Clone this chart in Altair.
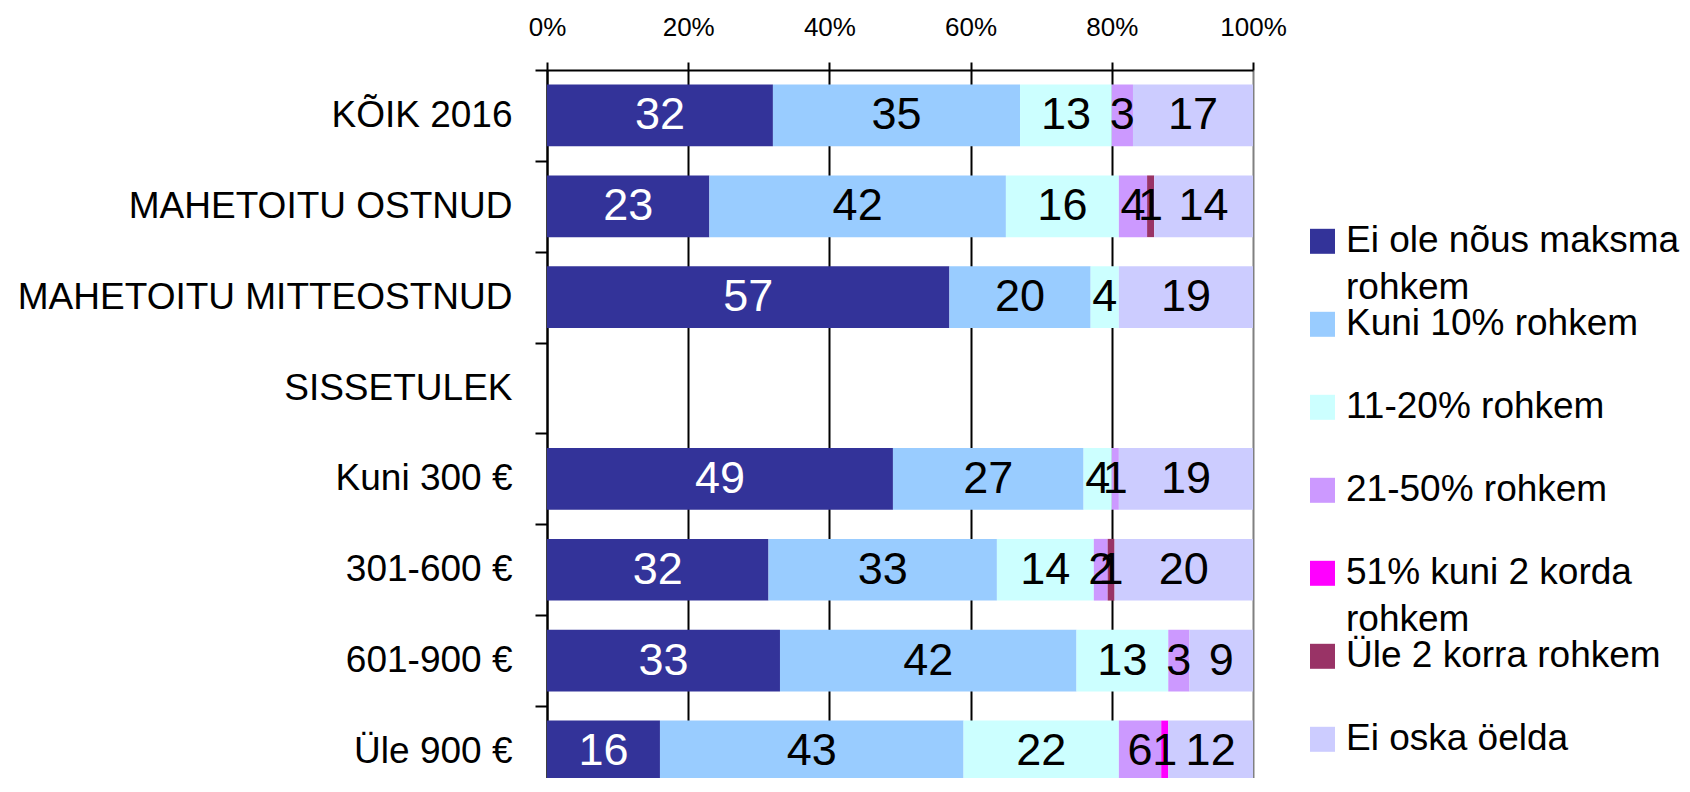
import altair as alt
import pandas as pd

categories = ["KÕIK 2016", "MAHETOITU OSTNUD", "MAHETOITU MITTEOSTNUD", "SISSETULEK",
              "Kuni 300 €", "301-600 €", "601-900 €", "Üle 900 €"]
series = ["Ei ole nõus maksma rohkem", "Kuni 10% rohkem", "11-20% rohkem",
          "21-50% rohkem", "51% kuni 2 korda rohkem", "Üle 2 korra rohkem", "Ei oska öelda"]
legend_labels = ["Ei ole nõus maksma\nrohkem", "Kuni 10% rohkem", "11-20% rohkem",
                 "21-50% rohkem", "51% kuni 2 korda\nrohkem", "Üle 2 korra rohkem", "Ei oska öelda"]
colors = ["#333399", "#99CCFF", "#CCFFFF", "#CC99FF", "#FF00FF", "#993366", "#CCCCFF"]

ei_ole = [32, 23, 57, 0, 49, 32, 33, 16]
kuni_10 = [35, 42, 20, 0, 27, 33, 42, 43]
p11_20 = [13, 16, 4, 0, 4, 14, 13, 22]
p21_50 = [3, 4, 0, 0, 1, 2, 3, 6]
p51_2x = [0, 0, 0, 0, 0, 0, 0, 1]
yle_2x = [0, 1, 0, 0, 0, 1, 0, 0]
ei_oska = [17, 14, 19, 0, 19, 20, 9, 12]

series_values = [ei_ole, kuni_10, p11_20, p21_50, p51_2x, yle_2x, ei_oska]

rows = []
for i, (s, vals) in enumerate(zip(series, series_values)):
    for c, v in zip(categories, vals):
        rows.append({"category": c, "series": s, "order": i, "value": v})
df = pd.DataFrame(rows)

leg_df = pd.DataFrame({"series": series, "label": legend_labels, "lidx": list(range(len(series)))})

FONT = "Liberation Sans, Arial, sans-serif"

color_scale = alt.Scale(domain=series, range=colors)

STEP = 90.86
yenc = alt.Y(
    "category:N",
    scale=alt.Scale(domain=categories, range=[0, STEP * len(categories)],
                    paddingInner=0, paddingOuter=0, round=False),
    axis=alt.Axis(
        title=None, tickBand="extent", tickSize=12, tickColor="black", tickWidth=2,
        domainColor="black", domainWidth=2, labelFont=FONT, labelFontSize=37,
        labelColor="black", labelPadding=23, labelLimit=0, grid=False,
    ),
)

base = (
    alt.Chart(df)
    .transform_filter("datum.value > 0")
    .transform_stack(stack="value", groupby=["category"], as_=["v0", "v1"],
                     offset="normalize", sort=[alt.SortField("order", "ascending")])
    .transform_calculate(mid="(datum.v0 + datum.v1) / 2")
)

bars = base.mark_bar(height={"band": 0.679}).encode(
    x=alt.X(
        "v0:Q",
        scale=alt.Scale(domain=[0, 1], nice=False),
        axis=alt.Axis(
            orient="top", values=[0, 0.2, 0.4, 0.6, 0.8, 1], format="%", title=None,
            labelFont=FONT, labelFontSize=26, labelColor="black", labelPadding=21.5,
            labelFlush=False,
            tickSize=8, tickColor="black", tickWidth=2,
            domainColor="black", domainWidth=2,
            grid=True, gridWidth=2,
            gridColor={"condition": {"test": "datum.value >= 1", "value": "#808080"}, "value": "black"},
            gridOpacity=1,
        ),
    ),
    x2="v1:Q",
    y=yenc,
    color=alt.Color("series:N", scale=color_scale, legend=None),
)

labels = base.mark_text(font=FONT, fontSize=45, baseline="middle", align="center").encode(
    x="mid:Q",
    y=yenc,
    text="value:Q",
    color=alt.condition(alt.datum.series == series[0], alt.value("white"), alt.value("black")),
)

leg_y = alt.Y("lidx:Q", scale=alt.Scale(domain=[0, 6], range=[171.3, 669.3], nice=False, zero=False), axis=None)

leg_sq = alt.Chart(leg_df).mark_square(size=625, opacity=1).encode(
    x=alt.value(775.5),
    y=leg_y,
    color=alt.Color("series:N", scale=color_scale, legend=None),
)
leg_txt = alt.Chart(leg_df).mark_text(
    align="left", baseline="middle", font=FONT, fontSize=37, lineHeight=46.7, lineBreak="\n", color="black"
).encode(
    x=alt.value(799),
    y=leg_y,
    text="label:N",
)

main = alt.layer(bars, labels)
legend = alt.layer(leg_sq, leg_txt)

chart = (
    alt.layer(main, legend)
    .resolve_scale(y="independent")
    .properties(
        width=706, height=708,
        autosize=alt.AutoSizeParams(type="none"),
        padding={"left": 539, "top": 62, "right": 429, "bottom": 0},
    )
    .configure_view(stroke=None)
)

chart.save("out.html", embed_options={"renderer": "svg", "actions": False})
